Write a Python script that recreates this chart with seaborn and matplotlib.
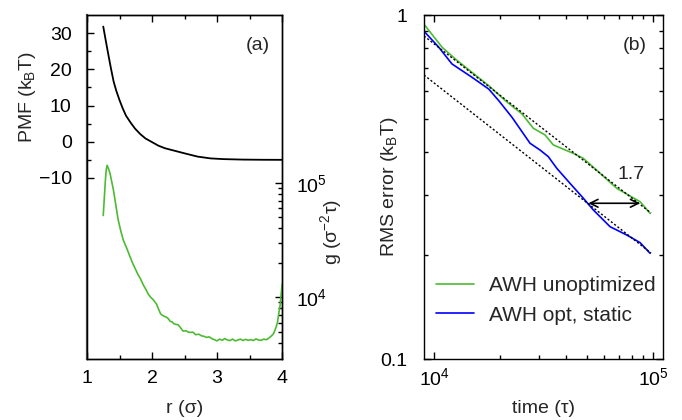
import numpy as np
import pandas as pd
import matplotlib
matplotlib.use('Agg')
import matplotlib.pyplot as plt
from matplotlib.ticker import FixedLocator, NullFormatter, FixedFormatter
import seaborn as sns

# panel (a): PMF and g(r)
r_pmf = [1.25, 1.29, 1.33, 1.37, 1.41, 1.45, 1.50, 1.55, 1.60, 1.67, 1.74, 1.82,
         1.90, 2.00, 2.10, 2.20, 2.35, 2.50, 2.70, 2.90, 3.10, 3.40, 3.70, 4.00]
pmf = [31.8, 27.8, 23.9, 20.1, 16.6, 14.1, 11.5, 9.2, 7.2, 5.3, 3.6, 2.1,
       0.9, -0.1, -1.1, -1.8, -2.5, -3.2, -4.1, -4.6, -4.8, -4.93, -4.98, -5.0]

r_g = [1.25, 1.265, 1.28, 1.295, 1.31, 1.33, 1.355, 1.38, 1.405, 1.44, 1.48, 1.52,
       1.56, 1.61, 1.66, 1.70, 1.74, 1.78, 1.82, 1.87, 1.91, 1.94, 1.98, 2.02,
       2.07, 2.10, 2.13, 2.15, 2.19, 2.22, 2.25, 2.28, 2.31, 2.33, 2.36, 2.40,
       2.43, 2.46, 2.48, 2.52, 2.56, 2.60, 2.63, 2.67, 2.72, 2.76, 2.80, 2.84,
       2.88, 2.92, 2.96, 3.00, 3.04, 3.08, 3.12, 3.16, 3.20, 3.24, 3.28, 3.32,
       3.36, 3.40, 3.44, 3.48, 3.52, 3.56, 3.60, 3.64, 3.68, 3.72, 3.76, 3.80,
       3.84, 3.87, 3.90, 3.93, 3.95, 3.97, 3.99, 4.00]
g = [52000, 72000, 100000, 130000, 143000, 134000, 121000, 103000, 88000, 66000, 47500, 38000,
     31500, 27000, 22800, 20000, 17900, 16000, 14600, 12700, 11600, 10700, 10000, 9500,
     8700, 7900, 7200, 7000, 6800, 6700, 6500, 6150, 6100, 5900, 5800, 5750,
     5500, 5200, 5050, 5100, 4950, 4920, 4950, 4700, 4750, 4600, 4550, 4450,
     4500, 4350, 4250, 4150, 4300, 4200, 4350, 4220, 4180, 4300, 4150, 4220,
     4300, 4180, 4280, 4200, 4250, 4180, 4320, 4220, 4200, 4300, 4250, 4400,
     4600, 4800, 5300, 6000, 7200, 8400, 11000, 13000]

# panel (b): RMS error vs time
t_unopt = [9000, 10880, 12510, 14910, 17780, 21170, 25220, 28410, 32130, 35050,
           43270, 48050, 57280, 68270, 87230, 96900]
err_unopt = [0.940, 0.806, 0.745, 0.681, 0.623, 0.5635, 0.5155, 0.4685, 0.448, 0.419,
             0.396, 0.383, 0.3467, 0.3134, 0.2866, 0.2651]
t_opt = [9000, 10510, 12080, 14910, 17780, 19750, 22710, 27440, 30480, 33250, 36340,
         41780, 48050, 53390, 63640, 75850, 87230, 96900]
err_opt = [0.897, 0.806, 0.7205, 0.659, 0.609, 0.5635, 0.504, 0.4237, 0.405, 0.3874, 0.3584,
           0.324, 0.2933, 0.2711, 0.2424, 0.2293, 0.2179, 0.2029]
t_fit = [9000, 97900]
fit_upper = [0.869, 0.2657]
fit_lower = [0.669, 0.2033]
arrow_t = [50650, 87230]
arrow_err = 0.2836

sns.set_theme(style='ticks')
plt.rcParams['font.family'] = ['Liberation Sans', 'DejaVu Sans']
plt.rcParams['mathtext.fontset'] = 'custom'
plt.rcParams['mathtext.rm'] = 'Liberation Sans'
plt.rcParams['mathtext.it'] = 'Liberation Sans:italic'
plt.rcParams['mathtext.default'] = 'regular'
plt.rcParams['font.size'] = 14
plt.rcParams['axes.labelsize'] = 14
plt.rcParams['legend.fontsize'] = 15
plt.rcParams['axes.linewidth'] = 1.0
plt.rcParams['axes.edgecolor'] = 'black'
for a in ['x', 'y']:
    plt.rcParams[a + 'tick.direction'] = 'in'
    plt.rcParams[a + 'tick.major.size'] = 5
    plt.rcParams[a + 'tick.minor.size'] = 3
    plt.rcParams[a + 'tick.major.width'] = 1.0
    plt.rcParams[a + 'tick.minor.width'] = 1.0
    plt.rcParams[a + 'tick.labelsize'] = 14
    plt.rcParams[a + 'tick.color'] = 'black'

green = '#4cbb33'
blue = '#0000ff'

fig = plt.figure(figsize=(6.82, 4.2), dpi=100)
ax = fig.add_axes([87 / 682, 61 / 420, 195 / 682, 344 / 420])
ax_g = ax.twinx()
axb = fig.add_axes([424 / 682, 61 / 420, 239 / 682, 344 / 420])

# --- panel (a)
df_pmf = pd.DataFrame({'r': r_pmf, 'pmf': pmf})
sns.lineplot(data=df_pmf, x='r', y='pmf', ax=ax, color='black', lw=1.3,
             estimator=None, sort=False)
df_g = pd.DataFrame({'r': r_g, 'g': g})
sns.lineplot(data=df_g, x='r', y='g', ax=ax_g, color=green, lw=1.2,
             estimator=None, sort=False)

ax.set_xlim(1, 4)
ax.set_ylim(-60, 35)
ax.set_xticks([1, 2, 3, 4])
ax.xaxis.set_minor_locator(FixedLocator([1.5, 2.5, 3.5]))
ax.set_yticks([-10, 0, 10, 20, 30])
ax.set_yticklabels(['\u221210', '0', '10', '20', '30'])
ax.yaxis.set_minor_locator(FixedLocator([-5, 5, 15, 25]))
ax.tick_params(which='both', direction='in', top=True, right=False, left=True, bottom=True)
ax.tick_params(axis='y', which='major', pad=11)
ax.tick_params(axis='x', which='major', pad=8)
ax.set_xlabel('r (\u03c3)')
ax.xaxis.set_label_coords(0.5, -0.12)
ax.set_ylabel('PMF (k$_\\mathrm{B}$T)')
ax.yaxis.set_label_coords(-0.25, 0.76)
ax.spines['left'].set_color('#555555')
ax.spines['left'].set_linewidth(1.6)

ax_g.set_yscale('log')
ax_g.set_ylim(2880, 2.96e6)
ax_g.yaxis.set_major_locator(FixedLocator([1e4, 1e5]))
ax_g.yaxis.set_major_formatter(FixedFormatter(['$10^4$', '$10^5$']))
ax_g.yaxis.set_minor_locator(FixedLocator([4000, 5000, 6000, 7000, 8000, 9000,
                                           20000, 30000, 40000, 50000, 60000,
                                           70000, 80000, 90000]))
ax_g.yaxis.set_minor_formatter(NullFormatter())
ax_g.tick_params(which='both', right=True, left=False, top=False, direction='in')
ax_g.tick_params(axis='y', which='major', pad=10)
ax_g.set_ylabel('g (\u03c3$^{-2}$\u03c4)')
ax_g.yaxis.set_label_coords(1.185, 0.37)
ax_g.set_xlabel('')
ax.text(0.874, 0.91, '(a)', transform=ax.transAxes, ha='center', va='center', fontsize=14)

# --- panel (b)
df_b = pd.concat([
    pd.DataFrame({'time': t_unopt, 'err': err_unopt, 'run': 'AWH unoptimized'}),
    pd.DataFrame({'time': t_opt, 'err': err_opt, 'run': 'AWH opt, static'}),
])
sns.lineplot(data=df_b, x='time', y='err', hue='run', ax=axb,
             palette={'AWH unoptimized': green, 'AWH opt, static': blue},
             lw=1.2, estimator=None, sort=False)
for fit in (fit_upper, fit_lower):
    axb.plot(t_fit, fit, color='black', lw=1.0, linestyle=(0, (1.5, 1.5)))
axb.annotate('', xy=(arrow_t[1], arrow_err), xytext=(arrow_t[0], arrow_err),
             arrowprops=dict(arrowstyle='<->', color='black', lw=1.2,
                             shrinkA=0, shrinkB=0, mutation_scale=14))
axb.text(79350, 0.344, '1.7', ha='center', va='center', fontsize=14)
axb.text(0.881, 0.91, '(b)', transform=axb.transAxes, ha='center', va='center', fontsize=14)

axb.set_xscale('log')
axb.set_yscale('log')
axb.set_xlim(9000, 111000)
axb.set_ylim(0.1, 1)
axb.yaxis.set_major_locator(FixedLocator([0.1, 1]))
axb.yaxis.set_major_formatter(FixedFormatter(['0.1', '1']))
axb.yaxis.set_minor_locator(FixedLocator([0.2, 0.3, 0.4, 0.5, 0.6, 0.7, 0.8, 0.9]))
axb.yaxis.set_minor_formatter(NullFormatter())
axb.xaxis.set_major_locator(FixedLocator([1e4, 1e5]))
axb.xaxis.set_major_formatter(FixedFormatter(['$10^4$', '$10^5$']))
axb.xaxis.set_minor_locator(FixedLocator([2e4, 3e4, 4e4, 5e4, 6e4, 7e4, 8e4, 9e4]))
axb.xaxis.set_minor_formatter(NullFormatter())
axb.tick_params(which='both', direction='in', top=True, right=True)
axb.tick_params(axis='y', which='major', pad=12)
axb.tick_params(axis='x', which='major', pad=6)
axb.set_xlabel('time (\u03c4)')
axb.xaxis.set_label_coords(0.5, -0.12)
axb.set_ylabel('RMS error (k$_\\mathrm{B}$T)')
axb.yaxis.set_label_coords(-0.10, 0.5)
leg = axb.legend(loc='lower left', bbox_to_anchor=(0.05, 0.10), frameon=False,
                 handlelength=1.85, handletextpad=0.7, labelspacing=0.5,
                 borderaxespad=0, borderpad=0, fontsize=15)
leg.set_title(None)

fig.savefig('out.png', dpi=100)
